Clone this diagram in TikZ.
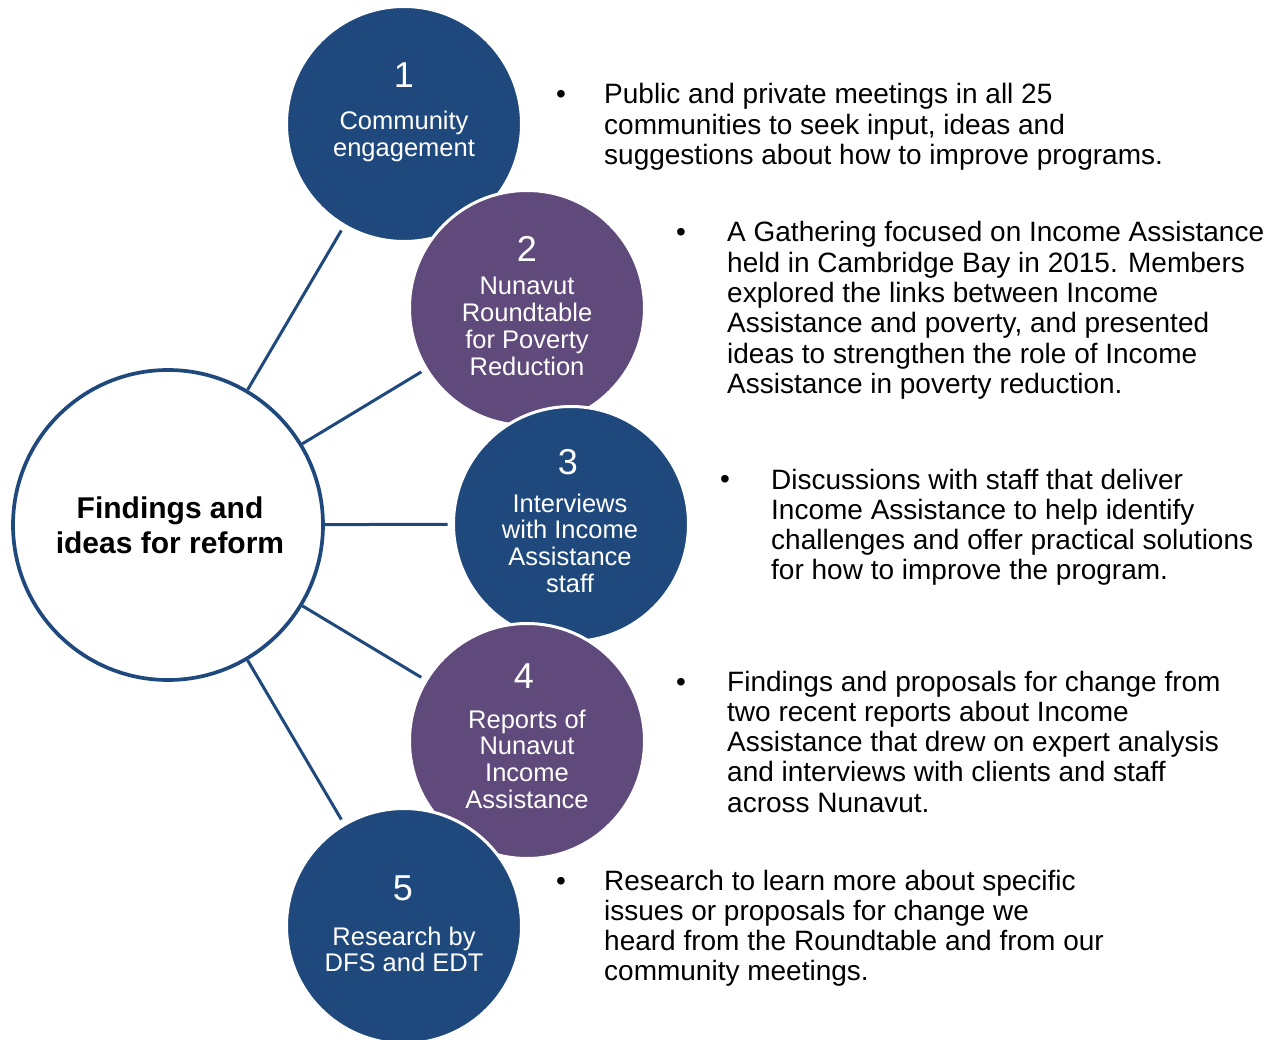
\documentclass[tikz,border=0pt]{standalone}
\usepackage{fontspec}
\setmainfont{Liberation Sans}
\definecolor{navy}{HTML}{1F497D}
\definecolor{plum}{HTML}{604A7B}
\begin{document}
% multi-line nodes below sit on the baseline of their last line
\begin{tikzpicture}[x=1pt,y=-1pt,
  hub/.style={circle, draw=navy, line width=3.7pt, fill=white, minimum size=310pt, inner sep=0pt},
  stage/.style={circle, draw=white, line width=3pt, minimum size=235pt, inner sep=0pt},
  spoke/.style={draw=navy, line width=3pt, shorten >=4.5pt},
  stagenum/.style={text=white, font=\fontsize{36}{36}\selectfont, anchor=base, inner sep=0pt},
  stagetext/.style={text=white, font=\fontsize{25.5}{26.7}\selectfont, align=center, anchor=base, inner sep=0pt},
  notetext/.style={font=\fontsize{28}{30.3}\selectfont, align=left, anchor=base west, inner sep=0pt},
  bulletdot/.style={font=\fontsize{28}{30.3}\selectfont, anchor=base, inner sep=0pt}]
\path[use as bounding box, clip] (0,0) rectangle (1275,1040);

% central hub
\node[hub] (hub) at (168,525) {};
\node[font=\bfseries\fontsize{30}{35}\selectfont, align=center, anchor=base, inner sep=0pt]
  (hubtext) at (170,553) {Findings and\\ideas for reform};

% the five stages, each overlapping the previous one
\node[stage, fill=navy] (s1) at (404,124) {};
\node[stage, fill=plum] (s2) at (527,308) {};
\node[stage, fill=navy] (s3) at (571,524) {};
\node[stage, fill=plum] (s4) at (527,741) {};
\node[stage, fill=navy] (s5) at (404,926) {};

% spokes from the hub
\foreach \s in {s1,s2,s3,s4,s5}
  \draw[spoke] (hub) -- (\s);

% stage labels
\node[stagenum] (n1) at (404,88) {1};
\node[stagetext] (c1) at (404,156.7) {Community\\engagement};
\node[stagenum] (n2) at (527,262) {2};
\node[stagetext] (c2) at (527,375.1) {Nunavut\\Roundtable\\for Poverty\\Reduction};
\node[stagenum] (n3) at (568,475) {3};
\node[stagetext] (c3) at (570,592.1) {Interviews\\with Income\\Assistance\\staff};
\node[stagenum] (n4) at (524,688) {4};
\node[stagetext] (c4) at (527,808.1) {Reports of\\Nunavut\\Income\\Assistance};
\node[stagenum] (n5) at (403,900) {5};
\node[stagetext] (c5) at (404,971.7) {Research by\\DFS and EDT};

% bullet notes
\node[bulletdot] (b1) at (561,104) {•};
\node[notetext] (t1) at (604,164.6) {Public and private meetings in all 25\\communities to seek input, ideas and\\suggestions about how to improve programs.};
\node[bulletdot] (b2) at (681,242) {•};
\node[notetext] (t2) at (727,393.5) {A Gathering focused on Income Assistance\\held in Cambridge Bay in 2015. Members\\explored the links between Income\\Assistance and poverty, and presented\\ideas to strengthen the role of Income\\Assistance in poverty reduction.};
\node[bulletdot] (b3) at (725,489) {•};
\node[notetext] (t3) at (771,579.9) {Discussions with staff that deliver\\Income Assistance to help identify\\challenges and offer practical solutions\\for how to improve the program.};
\node[bulletdot] (b4) at (681,691) {•};
\node[notetext] (t4) at (727,812.2) {Findings and proposals for change from\\two recent reports about Income\\Assistance that drew on expert analysis\\and interviews with clients and staff\\across Nunavut.};
\node[bulletdot] (b5) at (561,890) {•};
\node[notetext] (t5) at (604,980.9) {Research to learn more about specific\\issues or proposals for change we\\heard from the Roundtable and from our\\community meetings.};
\end{tikzpicture}
\end{document}
